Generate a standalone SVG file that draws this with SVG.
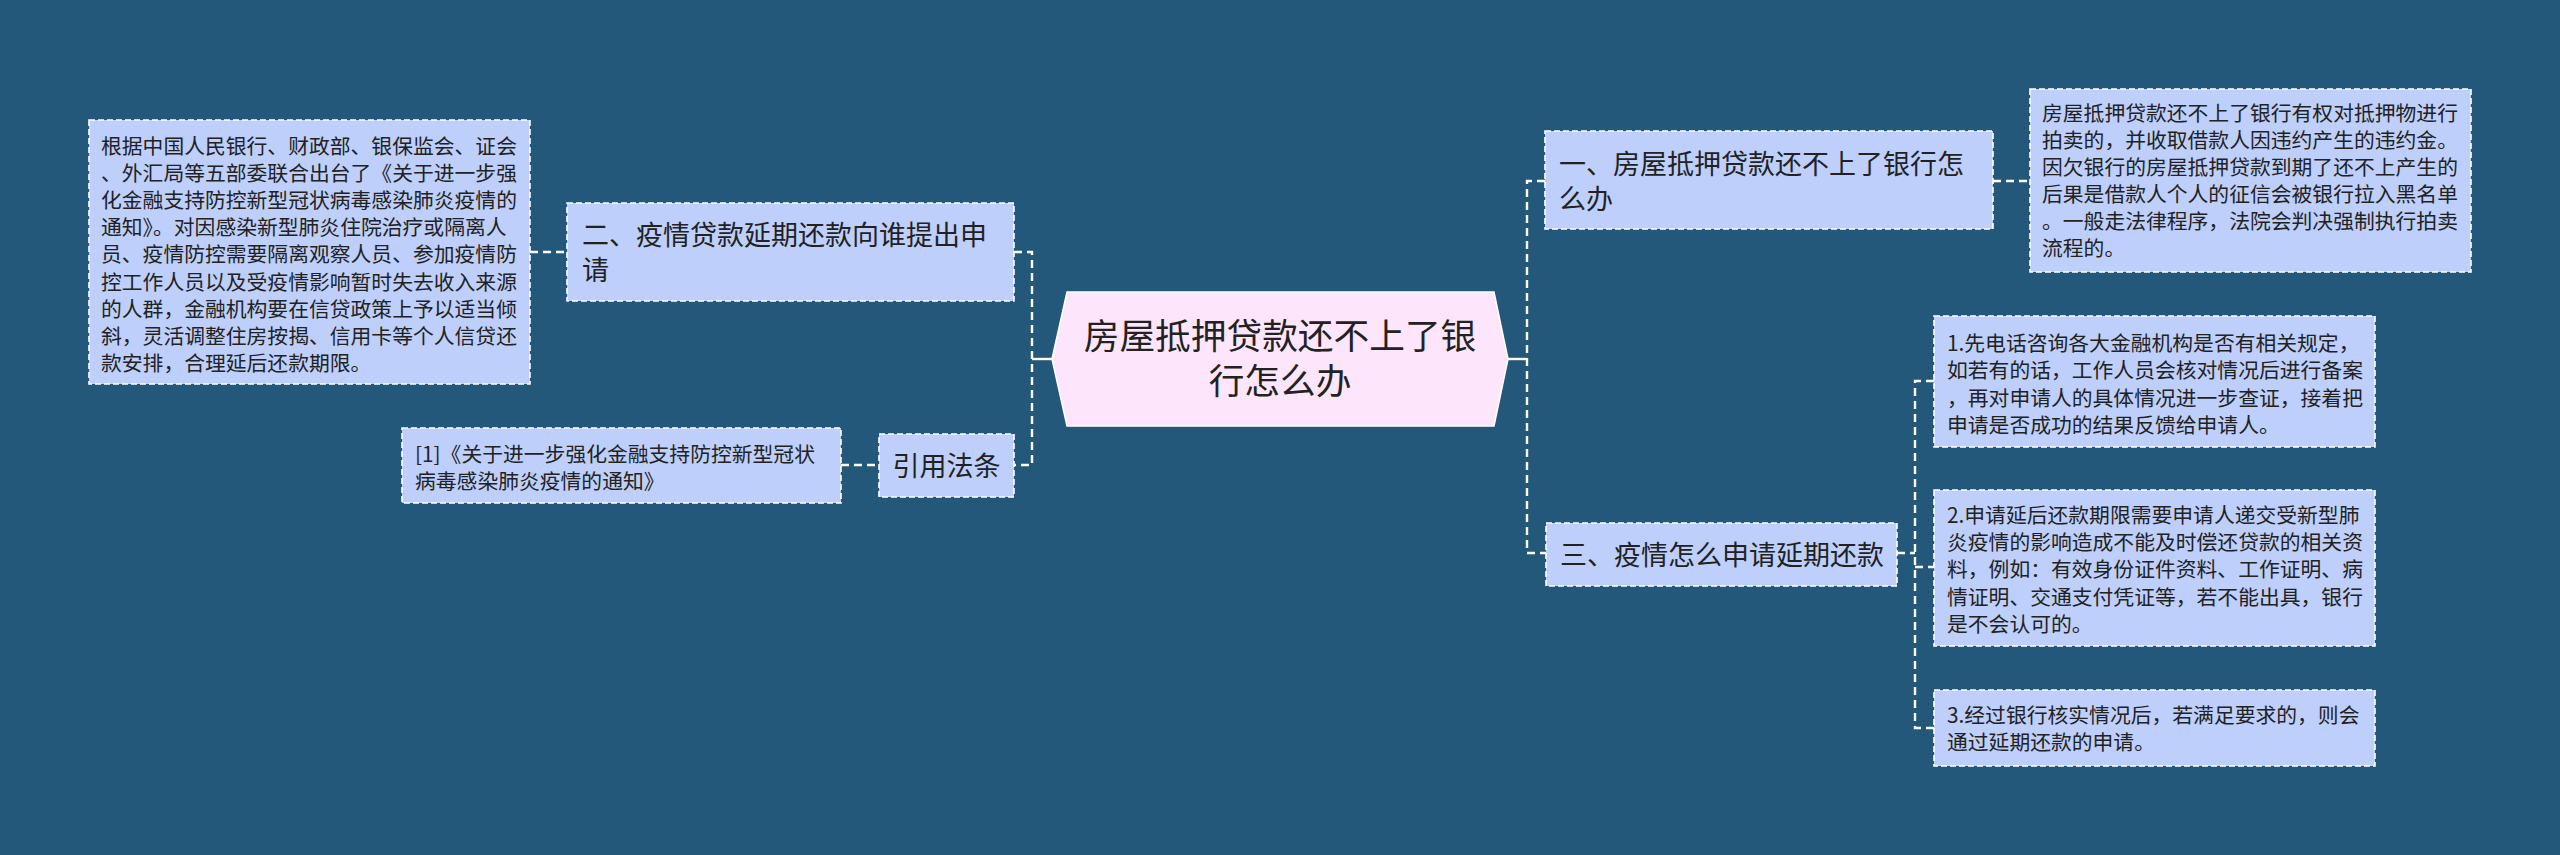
<svg xmlns="http://www.w3.org/2000/svg" width="2560" height="855" viewBox="0 0 2560 855">
<style>
.bg{fill:#23587a}
.box{fill:#bdcffa;stroke:#ffffff;stroke-width:1.6;stroke-dasharray:6 3}
.center{fill:#fde6fb;stroke:#ffffff;stroke-width:1.5}
.t{font-family:"Noto Sans CJK SC","Noto Sans",sans-serif;fill:#222222}
.ct{font-size:35.7px}
.nt{font-size:27px}
.lt{font-size:20.8px}
.conn{fill:none;stroke:#ffffff;stroke-width:2.4;stroke-dasharray:8 5}
.solid{fill:none;stroke:#ffffff;stroke-width:2.4}
</style>
<rect class="bg" x="0" y="0" width="2560" height="855"/>
<g id="connectors">
<path class="solid" d="M1052 359 H1032"/>
<path class="conn" d="M1014 252 H1032 V465 H1014"/>
<path class="conn" d="M530 252 H567"/>
<path class="conn" d="M841 465 H879"/>
<path class="solid" d="M1508 359 H1527"/>
<path class="conn" d="M1545 181 H1527 V553 H1546"/>
<path class="conn" d="M1993 181 H2030"/>
<path class="conn" d="M1897 553 H1915"/>
<path class="conn" d="M1934 381 H1915 V728 H1934"/>
<path class="conn" d="M1915 567 H1934"/>
</g>
<g id="center">
<polygon class="center" points="1052,359 1067,292 1494,292 1508,359 1494,426 1067,426"/>
<text class="t ct" text-anchor="middle"><tspan x="1280" y="348.6">房屋抵押贷款还不上了银</tspan><tspan x="1280" y="393.6">行怎么办</tspan></text>
</g>
<g id="node-er">
<rect class="box" x="567" y="203" width="447" height="98"/>
<text class="t nt"><tspan x="582" y="245.3">二、疫情贷款延期还款向谁提出申</tspan><tspan x="582" y="280.3">请</tspan></text>
</g>
<g id="leaf-er">
<rect class="box" x="89" y="120" width="441" height="264"/>
<text class="t lt">
<tspan x="101" y="154">根据中国人民银行、财政部、银保监会、证会</tspan>
<tspan x="101" y="181.1">、外汇局等五部委联合出台了《关于进一步强</tspan>
<tspan x="101" y="208.2">化金融支持防控新型冠状病毒感染肺炎疫情的</tspan>
<tspan x="101" y="235.3">通知》。对因感染新型肺炎住院治疗或隔离人</tspan>
<tspan x="101" y="262.4">员、疫情防控需要隔离观察人员、参加疫情防</tspan>
<tspan x="101" y="289.5">控工作人员以及受疫情影响暂时失去收入来源</tspan>
<tspan x="101" y="316.6">的人群，金融机构要在信贷政策上予以适当倾</tspan>
<tspan x="101" y="343.7">斜，灵活调整住房按揭、信用卡等个人信贷还</tspan>
<tspan x="101" y="370.8">款安排，合理延后还款期限。</tspan>
</text>
</g>
<g id="node-cite">
<rect class="box" x="879" y="434" width="135" height="63"/>
<text class="t nt" text-anchor="middle" x="946.5" y="476">引用法条</text>
</g>
<g id="leaf-cite">
<rect class="box" x="402" y="428" width="439" height="75"/>
<text class="t lt"><tspan x="415" y="462">[1]《关于进一步强化金融支持防控新型冠状</tspan><tspan x="415" y="489">病毒感染肺炎疫情的通知》</tspan></text>
</g>
<g id="node-yi">
<rect class="box" x="1545" y="131" width="448" height="98"/>
<text class="t nt"><tspan x="1559" y="174.3">一、房屋抵押贷款还不上了银行怎</tspan><tspan x="1559" y="209.3">么办</tspan></text>
</g>
<g id="leaf-yi">
<rect class="box" x="2030" y="89" width="441" height="183"/>
<text class="t lt">
<tspan x="2042" y="121">房屋抵押贷款还不上了银行有权对抵押物进行</tspan>
<tspan x="2042" y="148">拍卖的，并收取借款人因违约产生的违约金。</tspan>
<tspan x="2042" y="175">因欠银行的房屋抵押贷款到期了还不上产生的</tspan>
<tspan x="2042" y="202">后果是借款人个人的征信会被银行拉入黑名单</tspan>
<tspan x="2042" y="229">。一般走法律程序，法院会判决强制执行拍卖</tspan>
<tspan x="2042" y="256">流程的。</tspan>
</text>
</g>
<g id="node-san">
<rect class="box" x="1546" y="523" width="351" height="63"/>
<text class="t nt" x="1560" y="565.3">三、疫情怎么申请延期还款</text>
</g>
<g id="leaf-san-1">
<rect class="box" x="1934" y="316" width="441" height="131"/>
<text class="t lt">
<tspan x="1947" y="351">1.先电话咨询各大金融机构是否有相关规定，</tspan>
<tspan x="1947" y="378.3">如若有的话，工作人员会核对情况后进行备案</tspan>
<tspan x="1947" y="405.6">，再对申请人的具体情况进一步查证，接着把</tspan>
<tspan x="1947" y="432.9">申请是否成功的结果反馈给申请人。</tspan>
</text>
</g>
<g id="leaf-san-2">
<rect class="box" x="1934" y="490" width="441" height="156"/>
<text class="t lt">
<tspan x="1947" y="523">2.申请延后还款期限需要申请人递交受新型肺</tspan>
<tspan x="1947" y="550.2">炎疫情的影响造成不能及时偿还贷款的相关资</tspan>
<tspan x="1947" y="577.4">料，例如：有效身份证件资料、工作证明、病</tspan>
<tspan x="1947" y="604.6">情证明、交通支付凭证等，若不能出具，银行</tspan>
<tspan x="1947" y="631.8">是不会认可的。</tspan>
</text>
</g>
<g id="leaf-san-3">
<rect class="box" x="1934" y="690" width="441" height="76"/>
<text class="t lt">
<tspan x="1947" y="723">3.经过银行核实情况后，若满足要求的，则会</tspan>
<tspan x="1947" y="750">通过延期还款的申请。</tspan>
</text>
</g>
</svg>
